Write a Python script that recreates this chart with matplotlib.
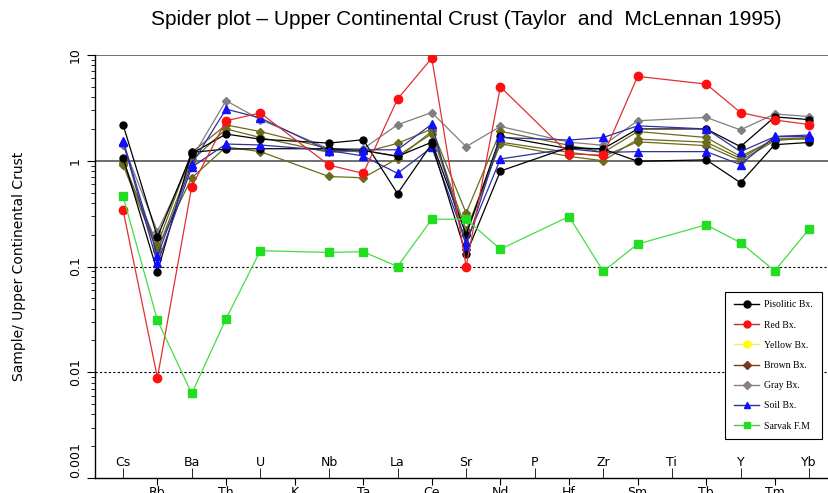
import numpy as np
import matplotlib
matplotlib.use("Agg")
import matplotlib.pyplot as plt
from matplotlib.lines import Line2D

nan = np.nan

elements = ["Cs", "Rb", "Ba", "Th", "U", "K", "Nb", "Ta", "La", "Ce", "Sr",
            "Nd", "P", "Hf", "Zr", "Sm", "Ti", "Tb", "Y", "Tm", "Yb"]

# normalised values (K, P, Ti not measured)
pisolitic_1 = [2.18, 0.19, 1.17, 1.79, 1.6, nan, 1.47, 1.58, 0.49, 1.45, 0.13,
               0.80, nan, 1.34, 1.29, 0.99, nan, 1.02, 0.62, 1.42, 1.49]
pisolitic_2 = [1.07, 0.089, 1.2, 1.29, 1.3, nan, 1.3, 1.25, 1.1, 1.5, 0.2,
               1.7, nan, 1.3, 1.3, 2.0, nan, 2.0, 1.36, 2.6, 2.45]
red_bx = [0.34, 0.0089, 0.57, 2.39, 2.83, nan, 0.91, 0.76, 3.83, 9.36, 0.10,
          5.0, nan, 1.16, 1.13, 6.28, nan, 5.31, 2.86, 2.43, 2.2]
brown_1 = [0.96, 0.16, 1.2, 2.18, 1.89, nan, 1.3, 1.2, 1.46, 2.0, 0.32,
           1.9, nan, 1.4, 1.2, 1.89, nan, 1.66, 1.1, 1.6, 1.6]
brown_2 = [0.91, 0.14, 1.0, 2.0, 1.66, nan, 1.2, 1.25, 1.11, 1.8, 0.2,
           1.5, nan, 1.2, 1.1, 1.51, nan, 1.39, 1.0, 1.55, 1.65]
brown_3 = [1.0, 0.15, 0.69, 1.35, 1.22, nan, 0.71, 0.69, 1.05, 1.9, 0.22,
           1.45, nan, 1.1, 1.0, 1.6, nan, 1.5, 1.05, 1.6, 1.65]
gray_bx = [1.41, 0.214, 1.05, 3.7, 2.45, nan, 1.3, 1.3, 2.19, 2.86, 1.36,
           2.11, nan, 1.5, 1.4, 2.39, nan, 2.57, 1.96, 2.77, 2.62]
soil_1 = [1.55, 0.126, 0.93, 3.08, 2.54, nan, 1.24, 1.27, 1.27, 2.22, 0.157,
          1.66, nan, 1.57, 1.66, 2.14, nan, 2.0, 1.22, 1.69, 1.69]
soil_2 = [1.5, 0.107, 0.87, 1.44, 1.41, nan, 1.25, 1.11, 0.76, 1.34, 0.17,
          1.04, nan, 1.3, 1.2, 1.22, nan, 1.22, 0.92, 1.7, 1.75]
sarvak = [0.46, 0.031, 0.0063, 0.032, 0.141, nan, 0.136, 0.138, 0.1, 0.28, 0.28,
          0.146, nan, 0.297, 0.09, 0.163, nan, 0.248, 0.168, 0.091, 0.226]

fig = plt.figure(figsize=(8.29, 4.93), dpi=100)
ax = fig.add_axes([0.1146, 0.0304, 0.8854, 0.858])
x = np.arange(len(elements))


def draw(vals, color, marker, ms=5, lc=None):
    v = np.array(vals, dtype=float)
    ok = ~np.isnan(v)
    ax.plot(x[ok], v[ok], color=lc or color, lw=0.9, marker=marker, ms=ms,
            mfc=color, mec=color, zorder=3)


ax.axhline(10, color="#555555", lw=1.2, zorder=1)
ax.axhline(1, color="#555555", lw=1.2, zorder=1)
ax.axhline(0.1, color="black", lw=0.8, ls=(0, (2, 2)), zorder=1)
ax.axhline(0.01, color="black", lw=0.8, ls=(0, (2, 2)), zorder=1)

olive = "#6b6b1e"
draw(gray_bx, "#7f7f7f", "D", 4)
draw(brown_1, olive, "D", 4)
draw(brown_2, olive, "D", 4)
draw(brown_3, olive, "D", 4)
draw(pisolitic_2, "black", "o", 5)
draw(soil_2, "#1010ff", "^", 6, "#3030a0")
draw(pisolitic_1, "black", "o", 5)
draw(soil_1, "#1010ff", "^", 6, "#3030a0")
draw(red_bx, "#ff1010", "o", 6, "#e03030")
draw(sarvak, "#22dd22", "s", 6, "#44dd44")

ax.set_yscale("log")
ax.set_ylim(0.001, 10)
ax.set_xlim(-0.82, 20.58)
ax.set_yticks([0.001, 0.01, 0.1, 1, 10])
ax.set_yticklabels(["0.001", "0.01", "0.1", "1", "10"], rotation=90, va="center")
ax.get_yticklabels()[0].set_va("bottom")
ax.tick_params(axis="y", which="major", direction="out", length=6, labelsize=9)
ax.tick_params(axis="y", which="minor", direction="out", length=3)

ax.set_xticks(x[1::2], elements[1::2])
ax.set_xticks(x[0::2], elements[0::2], minor=True)
ax.tick_params(axis="x", which="major", direction="out", length=5, labelsize=9, pad=0.5)
ax.tick_params(axis="x", which="minor", direction="in", length=7, labelsize=9, pad=-16)

for s in ["top", "right"]:
    ax.spines[s].set_visible(False)
ax.spines["left"].set_linewidth(1.0)
ax.spines["bottom"].set_linewidth(1.0)

ax.set_ylabel("Sample/ Upper Continental Crust", fontsize=10, labelpad=31)
fig.suptitle("Spider plot \u2013 Upper Continental Crust (Taylor  and  McLennan 1995)",
             x=0.563, y=0.98, fontsize=15, family="Liberation Sans")

handles = [
    Line2D([], [], color="black", marker="o", ms=5, lw=1),
    Line2D([], [], color="#c03030", marker="o", mfc="#ff1010", mec="#ff1010", ms=5, lw=1),
    Line2D([], [], color="#f0f060", marker="o", mfc="#ffff00", mec="#ffff00", ms=5, lw=1),
    Line2D([], [], color="#7a3a1a", marker="D", ms=4, lw=1),
    Line2D([], [], color="#8a8080", marker="D", ms=4, lw=1),
    Line2D([], [], color="#303090", marker="^", mfc="#1010ff", mec="#1010ff", ms=5, lw=1),
    Line2D([], [], color="#44cc44", marker="s", mfc="#22dd22", mec="#22dd22", ms=5, lw=1),
]
labels = ["Pisolitic Bx.", "Red Bx.", "Yellow Bx.", "Brown Bx.", "Gray Bx.",
          "Soil Bx.", "Sarvak F.M"]
leg = ax.legend(handles, labels, loc="lower left", bbox_to_anchor=(0.852, 0.08),
                prop={"family": "Liberation Serif", "size": 7},
                labelspacing=1.15, handlelength=2.6, handletextpad=0.5,
                fancybox=False, edgecolor="black", borderpad=0.9, framealpha=1)
leg.get_frame().set_linewidth(0.8)

fig.savefig("out.png", dpi=100)
